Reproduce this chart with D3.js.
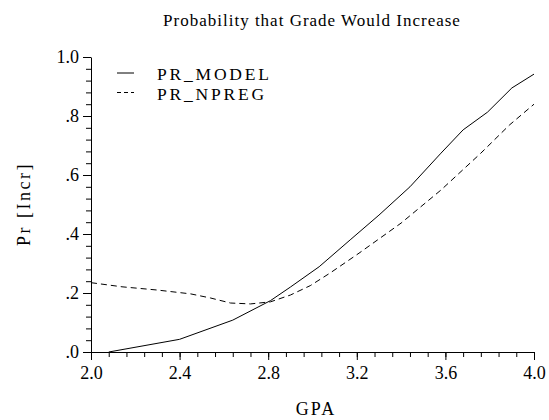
<!DOCTYPE html>
<html>
<head>
<meta charset="utf-8">
<script src="https://cdn.jsdelivr.net/npm/d3@7"></script>
<style>
  body { margin: 0; background: #fff; }
  svg text { font-family: 'Liberation Serif', 'Times New Roman', serif; fill: #000; }
  .axis path, .axis line { stroke: #000; stroke-width: 1; }
  .axis text { font-size: 18px; }
</style>
</head>
<body>
<div id="chart"></div>
<script>
// values
var modelGpa = [2.08, 2.40, 2.64, 2.81, 2.90, 3.03, 3.17, 3.30, 3.44, 3.58, 3.68, 3.79, 3.90, 4.00];
var modelPr  = [0.000, 0.043, 0.108, 0.174, 0.220, 0.289, 0.380, 0.464, 0.560, 0.674, 0.753, 0.813, 0.895, 0.942];

var npregGpa = [2.00, 2.14, 2.30, 2.45, 2.54, 2.63, 2.72, 2.81, 2.90, 2.99, 3.08, 3.21, 3.40, 3.58, 3.76, 3.89, 4.00];
var npregPr  = [0.235, 0.221, 0.210, 0.197, 0.183, 0.166, 0.163, 0.170, 0.193, 0.225, 0.268, 0.335, 0.437, 0.549, 0.674, 0.770, 0.840];

var xTicks = [2.0, 2.4, 2.8, 3.2, 3.6, 4.0];
var yTicks = [0, 0.2, 0.4, 0.6, 0.8, 1.0];
var yTickLabels = [".0", ".2", ".4", ".6", ".8", "1.0"];
var seriesNames = ["PR_MODEL", "PR_NPREG"];

var margin = {top: 57, right: 15, bottom: 68, left: 91},
    width = 549 - margin.left - margin.right,
    height = 420 - margin.top - margin.bottom;

var svg = d3.select("#chart")
    .append("svg")
        .attr("width", 549)
        .attr("height", 420);

var g = svg.append("g")
        .attr("transform", "translate(" + margin.left + "," + margin.top + ")");

var x = d3.scaleLinear()
        .domain([2, 4])
        .range([0, width]);

var y = d3.scaleLinear()
        .domain([0, 1])
        .range([height, 0]);

// minor ticks first, then major axis on top
g.append("g")
  .attr("class", "axis")
  .attr("transform", "translate(0," + height + ")")
  .call(d3.axisBottom(x)
      .tickValues(d3.range(0, 26).map(function(i) { return 2 + i * 0.08; }))
      .tickSize(5)
      .tickFormat(""))
  .select(".domain").remove();

g.append("g")
  .attr("class", "axis")
  .attr("transform", "translate(0," + height + ")")
  .call(d3.axisBottom(x)
      .tickValues(xTicks)
      .tickSizeInner(8)
      .tickSizeOuter(0)
      .tickPadding(6)
      .tickFormat(d3.format(".1f")));

g.append("g")
  .attr("class", "axis")
  .call(d3.axisLeft(y)
      .tickValues(d3.range(0, 26).map(function(i) { return i * 0.04; }))
      .tickSize(5)
      .tickFormat(""))
  .select(".domain").remove();

g.append("g")
  .attr("class", "axis")
  .call(d3.axisLeft(y)
      .tickValues(yTicks)
      .tickSizeInner(8)
      .tickSizeOuter(0)
      .tickPadding(4)
      .tickFormat(function(d, i) { return yTickLabels[i]; }));

g.selectAll(".axis").attr("font-family", null);

var line = d3.line()
    .x(function(d) { return x(d[0]); })
    .y(function(d) { return y(d[1]); });

g.append("path")
  .datum(modelGpa.map(function(d, i) { return [d, modelPr[i]]; }))
  .attr("fill", "none")
  .attr("stroke", "#000")
  .attr("stroke-width", 1)
  .attr("d", line);

g.append("path")
  .datum(npregGpa.map(function(d, i) { return [d, npregPr[i]]; }))
  .attr("fill", "none")
  .attr("stroke", "#000")
  .attr("stroke-width", 1)
  .attr("stroke-dasharray", "6,4")
  .attr("d", line);

// legend
var legend = svg.append("g").attr("transform", "translate(117,73)");
seriesNames.forEach(function(name, i) {
  legend.append("line")
    .attr("x1", 0).attr("x2", 17)
    .attr("y1", i * 19.5).attr("y2", i * 19.5)
    .attr("stroke", "#000")
    .attr("stroke-dasharray", i ? "4,3" : null);
  legend.append("text")
    .attr("x", 40)
    .attr("y", i * 19.5 + 7)
    .style("font-size", "17.5px")
    .style("letter-spacing", "2.8px")
    .text(name);
});

// titles
svg.append("text")
  .attr("x", 312)
  .attr("y", 26)
  .attr("text-anchor", "middle")
  .style("font-size", "17px")
  .style("letter-spacing", "1px")
  .text("Probability that Grade Would Increase");

svg.append("text")
  .attr("x", 316)
  .attr("y", 415)
  .attr("text-anchor", "middle")
  .style("font-size", "18px")
  .style("letter-spacing", "2px")
  .text("GPA");

svg.append("text")
  .attr("transform", "translate(30,204) rotate(-90)")
  .attr("text-anchor", "middle")
  .style("font-size", "18px")
  .style("letter-spacing", "2.5px")
  .text("Pr [Incr]");
</script>
</body>
</html>
